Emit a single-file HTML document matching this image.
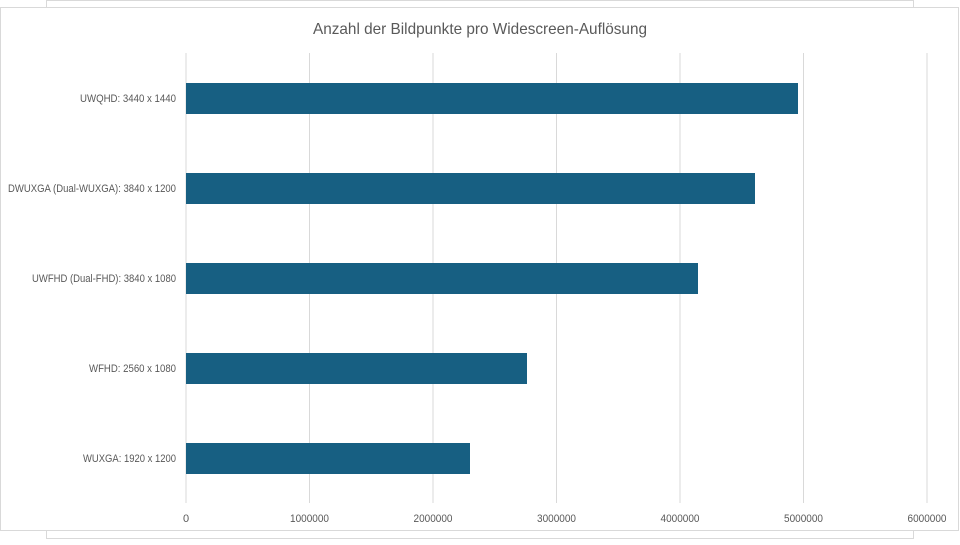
<!DOCTYPE html>
<html><head><meta charset="utf-8"><style>
body{margin:0;width:960px;height:540px;background:#fff;overflow:hidden}
svg text{font-family:"Liberation Sans",sans-serif;fill:#595959}
</style></head><body>
<svg width="960" height="540" xmlns="http://www.w3.org/2000/svg">
<rect x="46.5" y="0.5" width="867" height="538" fill="#fff" stroke="#d9d9d9"/>
<rect x="0.5" y="7.5" width="958" height="523" fill="#fff" stroke="#d9d9d9"/>
<text x="313" y="34" font-size="16" textLength="334" lengthAdjust="spacingAndGlyphs">Anzahl der Bildpunkte pro Widescreen-Auflösung</text>
<g stroke="#d9d9d9" stroke-width="1">
<line x1="186" y1="53" x2="186" y2="503"/>
<line x1="309.5" y1="53" x2="309.5" y2="503"/>
<line x1="433" y1="53" x2="433" y2="503"/>
<line x1="556.5" y1="53" x2="556.5" y2="503"/>
<line x1="680" y1="53" x2="680" y2="503"/>
<line x1="803.5" y1="53" x2="803.5" y2="503"/>
<line x1="927" y1="53" x2="927" y2="503"/>
</g>
<g fill="#175f82">
<rect x="186" y="83" width="612" height="31"/>
<rect x="186" y="173" width="569" height="31"/>
<rect x="186" y="263" width="512" height="31"/>
<rect x="186" y="353" width="341" height="31"/>
<rect x="186" y="443" width="284" height="31"/>
</g>
<g font-size="11" lengthAdjust="spacingAndGlyphs">
<text x="80" y="102" textLength="96" lengthAdjust="spacingAndGlyphs">UWQHD: 3440 x 1440</text>
<text x="8" y="192" textLength="168" lengthAdjust="spacingAndGlyphs">DWUXGA (Dual-WUXGA): 3840 x 1200</text>
<text x="32" y="282" textLength="144" lengthAdjust="spacingAndGlyphs">UWFHD (Dual-FHD): 3840 x 1080</text>
<text x="89" y="372" textLength="87" lengthAdjust="spacingAndGlyphs">WFHD: 2560 x 1080</text>
<text x="83" y="462" textLength="93" lengthAdjust="spacingAndGlyphs">WUXGA: 1920 x 1200</text>
</g>
<g font-size="11" text-anchor="middle">
<text x="186" y="522">0</text>
<text x="309.5" y="522" textLength="39" lengthAdjust="spacingAndGlyphs">1000000</text>
<text x="433" y="522" textLength="39" lengthAdjust="spacingAndGlyphs">2000000</text>
<text x="556.5" y="522" textLength="39" lengthAdjust="spacingAndGlyphs">3000000</text>
<text x="680" y="522" textLength="39" lengthAdjust="spacingAndGlyphs">4000000</text>
<text x="803.5" y="522" textLength="39" lengthAdjust="spacingAndGlyphs">5000000</text>
<text x="927" y="522" textLength="39" lengthAdjust="spacingAndGlyphs">6000000</text>
</g>
</svg>
</body></html>
